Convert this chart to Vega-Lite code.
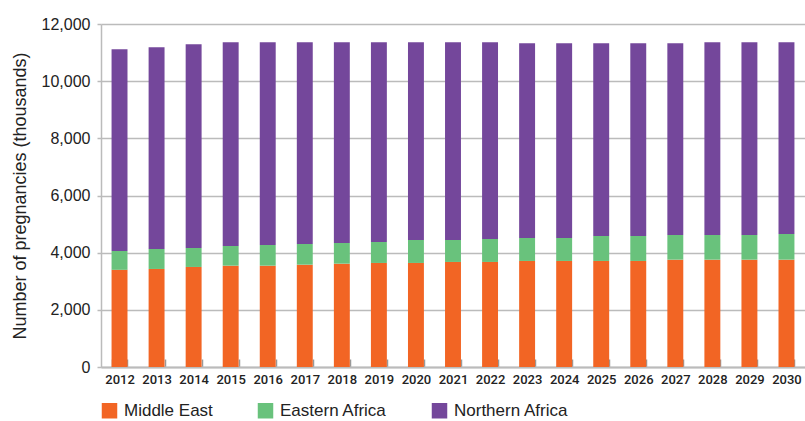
{
  "$schema": "https://vega.github.io/schema/vega-lite/v6.json",
  "width": 704,
  "height": 343,
  "autosize": {"type": "none"},
  "padding": {"left": 101, "top": 24, "right": 0, "bottom": 54},
  "config": {
    "font": "Liberation Sans",
    "view": {"stroke": null}
  },
  "data": {
    "values": [
      {"year": "2012", "region": "Middle East", "order": 1, "value": 3400},
      {"year": "2012", "region": "Eastern Africa", "order": 2, "value": 660},
      {"year": "2012", "region": "Northern Africa", "order": 3, "value": 7060},
      {"year": "2013", "region": "Middle East", "order": 1, "value": 3430},
      {"year": "2013", "region": "Eastern Africa", "order": 2, "value": 700},
      {"year": "2013", "region": "Northern Africa", "order": 3, "value": 7060},
      {"year": "2014", "region": "Middle East", "order": 1, "value": 3500},
      {"year": "2014", "region": "Eastern Africa", "order": 2, "value": 665},
      {"year": "2014", "region": "Northern Africa", "order": 3, "value": 7125},
      {"year": "2015", "region": "Middle East", "order": 1, "value": 3545},
      {"year": "2015", "region": "Eastern Africa", "order": 2, "value": 690},
      {"year": "2015", "region": "Northern Africa", "order": 3, "value": 7125},
      {"year": "2016", "region": "Middle East", "order": 1, "value": 3545},
      {"year": "2016", "region": "Eastern Africa", "order": 2, "value": 725},
      {"year": "2016", "region": "Northern Africa", "order": 3, "value": 7090},
      {"year": "2017", "region": "Middle East", "order": 1, "value": 3580},
      {"year": "2017", "region": "Eastern Africa", "order": 2, "value": 725},
      {"year": "2017", "region": "Northern Africa", "order": 3, "value": 7055},
      {"year": "2018", "region": "Middle East", "order": 1, "value": 3615},
      {"year": "2018", "region": "Eastern Africa", "order": 2, "value": 725},
      {"year": "2018", "region": "Northern Africa", "order": 3, "value": 7020},
      {"year": "2019", "region": "Middle East", "order": 1, "value": 3640},
      {"year": "2019", "region": "Eastern Africa", "order": 2, "value": 735},
      {"year": "2019", "region": "Northern Africa", "order": 3, "value": 6985},
      {"year": "2020", "region": "Middle East", "order": 1, "value": 3640},
      {"year": "2020", "region": "Eastern Africa", "order": 2, "value": 805},
      {"year": "2020", "region": "Northern Africa", "order": 3, "value": 6915},
      {"year": "2021", "region": "Middle East", "order": 1, "value": 3675},
      {"year": "2021", "region": "Eastern Africa", "order": 2, "value": 770},
      {"year": "2021", "region": "Northern Africa", "order": 3, "value": 6915},
      {"year": "2022", "region": "Middle East", "order": 1, "value": 3675},
      {"year": "2022", "region": "Eastern Africa", "order": 2, "value": 805},
      {"year": "2022", "region": "Northern Africa", "order": 3, "value": 6880},
      {"year": "2023", "region": "Middle East", "order": 1, "value": 3710},
      {"year": "2023", "region": "Eastern Africa", "order": 2, "value": 805},
      {"year": "2023", "region": "Northern Africa", "order": 3, "value": 6810},
      {"year": "2024", "region": "Middle East", "order": 1, "value": 3710},
      {"year": "2024", "region": "Eastern Africa", "order": 2, "value": 805},
      {"year": "2024", "region": "Northern Africa", "order": 3, "value": 6810},
      {"year": "2025", "region": "Middle East", "order": 1, "value": 3710},
      {"year": "2025", "region": "Eastern Africa", "order": 2, "value": 875},
      {"year": "2025", "region": "Northern Africa", "order": 3, "value": 6740},
      {"year": "2026", "region": "Middle East", "order": 1, "value": 3710},
      {"year": "2026", "region": "Eastern Africa", "order": 2, "value": 875},
      {"year": "2026", "region": "Northern Africa", "order": 3, "value": 6740},
      {"year": "2027", "region": "Middle East", "order": 1, "value": 3755},
      {"year": "2027", "region": "Eastern Africa", "order": 2, "value": 865},
      {"year": "2027", "region": "Northern Africa", "order": 3, "value": 6705},
      {"year": "2028", "region": "Middle East", "order": 1, "value": 3755},
      {"year": "2028", "region": "Eastern Africa", "order": 2, "value": 865},
      {"year": "2028", "region": "Northern Africa", "order": 3, "value": 6740},
      {"year": "2029", "region": "Middle East", "order": 1, "value": 3755},
      {"year": "2029", "region": "Eastern Africa", "order": 2, "value": 865},
      {"year": "2029", "region": "Northern Africa", "order": 3, "value": 6740},
      {"year": "2030", "region": "Middle East", "order": 1, "value": 3755},
      {"year": "2030", "region": "Eastern Africa", "order": 2, "value": 900},
      {"year": "2030", "region": "Northern Africa", "order": 3, "value": 6705}
    ]
  },
  "mark": {"type": "bar"},
  "encoding": {
    "x": {
      "field": "year",
      "type": "ordinal",
      "scale": {"paddingInner": 0.57, "paddingOuter": 0.285},
      "axis": {
        "title": null,
        "labelAngle": 0,
        "labelFont": "Roboto",
        "labelFontWeight": 500,
        "labelFontSize": 13,
        "labelColor": "#222222",
        "labelPadding": 14,
        "tickBand": "extent",
        "tickSize": -8,
        "tickColor": "#999999",
        "tickWidth": 1.5,
        "domainColor": "#bbbbbb",
        "domainWidth": 2
      }
    },
    "y": {
      "field": "value",
      "type": "quantitative",
      "stack": "zero",
      "scale": {"domain": [0, 12000]},
      "axis": {
        "title": "Number of pregnancies (thousands)",
        "titleFontSize": 18,
        "titleFontWeight": "normal",
        "titleColor": "#222222",
        "titlePadding": 12,
        "values": [0, 2000, 4000, 6000, 8000, 10000, 12000],
        "format": ",d",
        "labelFontSize": 16,
        "labelColor": "#222222",
        "labelPadding": 7,
        "tickSize": 4,
        "tickColor": "#bbbbbb",
        "tickWidth": 1.5,
        "domainColor": "#bbbbbb",
        "domainWidth": 1.5,
        "gridColor": "#bbbbbb",
        "gridWidth": 1.5
      }
    },
    "color": {
      "field": "region",
      "type": "nominal",
      "sort": ["Middle East", "Eastern Africa", "Northern Africa"],
      "scale": {
        "domain": ["Middle East", "Eastern Africa", "Northern Africa"],
        "range": ["#F26524", "#69C27C", "#74479B"]
      },
      "legend": {
        "title": null,
        "orient": "bottom",
        "direction": "horizontal",
        "columns": 3,
        "symbolType": "square",
        "symbolSize": 240,
        "symbolStrokeWidth": 0,
        "symbolOpacity": 1,
        "labelFontSize": 17,
        "labelColor": "#222222",
        "labelOffset": 6,
        "columnPadding": 44,
        "offset": 16
      }
    },
    "order": {"field": "order", "type": "quantitative"}
  }
}
